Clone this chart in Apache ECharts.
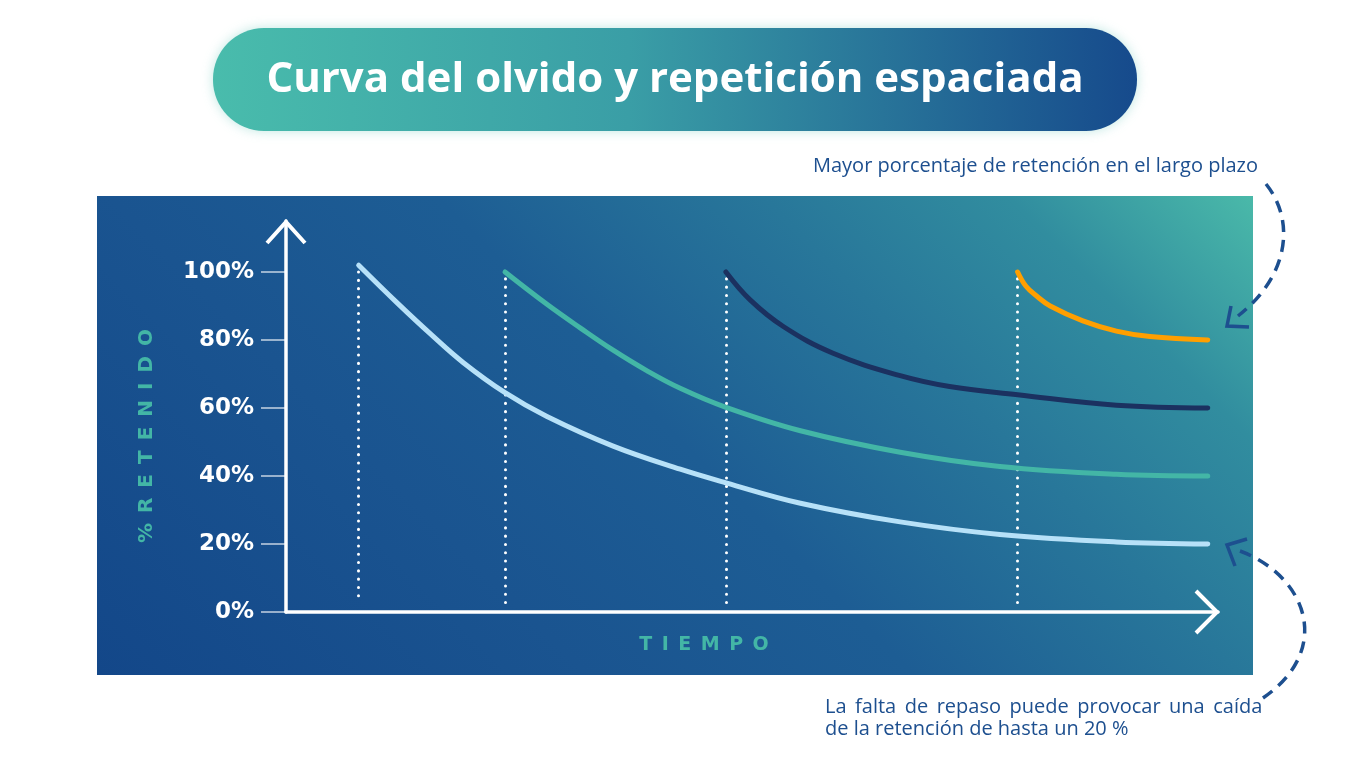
<!DOCTYPE html>
<html>
<head>
<meta charset="utf-8">
<title>Curva del olvido y repetición espaciada</title>
<script src="https://cdn.jsdelivr.net/npm/echarts@6/dist/echarts.min.js"></script>
<style>
  html, body { margin: 0; padding: 0; background: #ffffff; }
  #chart { width: 1350px; height: 759px; }
</style>
</head>
<body>
<div id="chart"></div>
<script>
// tiempo en unidades del eje (0-100), % retenido
var tiempoSinRepaso = [7.8, 11.9, 15.5, 19.0, 23.5, 28.0, 35.1, 42.3, 47.2, 55.2, 65.9, 76.6, 89.1, 98.9];
var retenidoSinRepaso = [102, 91.0, 81.8, 73.4, 64.5, 57.5, 48.8, 42.0, 38.0, 32.0, 26.5, 22.8, 20.6, 20];

var tiempoRepaso1 = [23.5, 28.0, 31.6, 35.1, 38.7, 42.3, 47.2, 55.2, 65.9, 76.6, 89.1, 98.9];
var retenidoRepaso1 = [100, 90.5, 83.5, 77, 71, 65.8, 60.2, 53.3, 47, 42.8, 40.5, 40];

var tiempoRepaso2 = [47.2, 49.8, 53.4, 58.7, 65.9, 71.2, 78.5, 89.1, 98.9];
var retenidoRepaso2 = [100, 91.8, 83.9, 76.1, 69.5, 66.3, 63.9, 60.8, 60];

var tiempoRepaso3 = [78.5, 79.4, 80.6, 82.0, 85.5, 89.1, 92.7, 98.9];
var retenidoRepaso3 = [100, 95.8, 92.8, 90.0, 85.6, 82.6, 81.0, 80];

// momentos de repaso (lineas punteadas)
var momentosRepaso = [7.8, 23.5, 47.2, 78.5];
var topeRepaso = [100, 98, 98, 98];

var yTicks = [0, 20, 40, 60, 80, 100];

function pares(xs, ys) {
  return xs.map(function (x, i) { return [x, ys[i]]; });
}

var chart = echarts.init(document.getElementById('chart'));

var colores = ['#b7e1f8', '#43b6a6', '#1b3160', '#ff9f00'];
var tiempos = [tiempoSinRepaso, tiempoRepaso1, tiempoRepaso2, tiempoRepaso3];
var valores = [retenidoSinRepaso, retenidoRepaso1, retenidoRepaso2, retenidoRepaso3];

var series = tiempos.map(function (t, i) {
  return {
    type: 'line',
    data: pares(t, valores[i]),
    smooth: 0.4,
    showSymbol: false,
    silent: true,
    lineStyle: { color: colores[i], width: 5, cap: 'round' },
    z: 5,
    markLine: {
      silent: true,
      symbol: ['none', 'none'],
      label: { show: false },
      lineStyle: { color: '#ffffff', width: 3, type: [0.1, 8.2], cap: 'round' },
      z: 3,
      data: [[{ coord: [momentosRepaso[i], topeRepaso[i]] }, { coord: [momentosRepaso[i], 2.4] }]]
    }
  };
});

var azul = '#1d4f8f';

var option = {
  animation: false,
  grid: { left: 286, right: 132, top: 221, bottom: 147 },
  xAxis: {
    type: 'value', min: 0, max: 100,
    axisLine: { lineStyle: { color: '#ffffff', width: 3.5 } },
    axisTick: { show: false },
    axisLabel: { show: false },
    splitLine: { show: false }
  },
  yAxis: {
    type: 'value', min: 0, max: 115, interval: 20,
    axisLine: { show: true, lineStyle: { color: '#ffffff', width: 3.5 } },
    axisTick: {
      show: true, length: 25, customValues: yTicks,
      lineStyle: { color: 'rgba(255,255,255,0.75)', width: 1.5 }
    },
    axisLabel: {
      customValues: yTicks,
      margin: 32,
      color: '#ffffff',
      fontFamily: 'DejaVu Sans',
      fontWeight: 'bold',
      fontSize: 23,
      formatter: function (v) { return v + '%'; }
    },
    splitLine: { show: false }
  },
  graphic: [
    // panel de fondo (degradado a 45 grados)
    {
      type: 'rect', z: -10, silent: true,
      shape: { x: 97, y: 196, width: 1156, height: 479 },
      style: {
        fill: new echarts.graphic.LinearGradient(97, 675, 914.5, -142.5, [
          { offset: 0, color: '#134789' },
          { offset: 0.3, color: '#1a5490' },
          { offset: 0.5, color: '#1d5d94' },
          { offset: 0.7, color: '#28779a' },
          { offset: 0.85, color: '#318d9f' },
          { offset: 1, color: '#4ab9a9' }
        ], true)
      }
    },
    // titulo
    {
      type: 'rect', z: 10,
      shape: { x: 213, y: 28, width: 924, height: 103, r: 51 },
      style: {
        fill: new echarts.graphic.LinearGradient(0, 0, 1, 0, [
          { offset: 0, color: '#49bcac' },
          { offset: 0.45, color: '#3a9ea6' },
          { offset: 1, color: '#164a8c' }
        ]),
        shadowBlur: 12,
        shadowColor: 'rgba(73,188,172,0.35)'
      }
    },
    {
      type: 'text', z: 11, x: 675, y: 80,
      style: {
        text: 'Curva del olvido y repetición espaciada',
        fill: '#ffffff',
        font: 'bold 42px "Open Sans"',
        align: 'center', verticalAlign: 'middle'
      }
    },
    // nombres de ejes
    {
      type: 'text', z: 11, x: 704, y: 645,
      style: {
        text: 'T\u2002I\u2002E\u2002M\u2002P\u2002O',
        fill: '#43b6a6',
        font: 'bold 19px "DejaVu Sans"',
        align: 'center', verticalAlign: 'middle'
      }
    },
    {
      type: 'text', z: 11, x: 147, y: 436, rotation: Math.PI / 2,
      style: {
        text: '%\u2002R\u2002E\u2002T\u2002E\u2002N\u2002I\u2002D\u2002O',
        fill: '#43b6a6',
        font: 'bold 20px "DejaVu Sans"',
        align: 'center', verticalAlign: 'middle'
      }
    },
    // puntas de flecha de los ejes
    {
      type: 'polyline', z: 11,
      shape: { points: [[267, 243], [286, 222], [305, 243]] },
      style: { stroke: '#ffffff', lineWidth: 4, fill: null }
    },
    {
      type: 'polyline', z: 11,
      shape: { points: [[1196, 591], [1217, 612], [1196, 633]] },
      style: { stroke: '#ffffff', lineWidth: 4, fill: null }
    },
    // anotaciones
    {
      type: 'text', z: 11, x: 813, y: 166,
      style: {
        text: 'Mayor porcentaje de retención en el largo plazo',
        fill: azul,
        font: '500 20px "Open Sans"',
        align: 'left', verticalAlign: 'middle'
      }
    },
    {
      type: 'text', z: 11, x: 825, y: 718,
      style: {
        text: 'La \u2009falta \u2009de \u2009repaso \u2009puede \u2009provocar \u2009una \u2009caída\nde la retención de hasta un 20 %',
        fill: azul,
        font: '500 20px "Open Sans"',
        lineHeight: 22,
        align: 'left', verticalAlign: 'middle'
      }
    },
    {
      type: 'bezierCurve', z: 11,
      shape: { x1: 1266, y1: 184, cpx1: 1295, cpy1: 220, cpx2: 1290, cpy2: 275, x2: 1238, y2: 316 },
      style: { stroke: azul, lineWidth: 3.5, lineDash: [12, 8], fill: null }
    },
    {
      type: 'polyline', z: 11,
      shape: { points: [[1231, 306], [1227, 326], [1249, 327]] },
      style: { stroke: azul, lineWidth: 3.5, fill: null }
    },
    {
      type: 'bezierCurve', z: 11,
      shape: { x1: 1240, y1: 551, cpx1: 1305, cpy1: 575, cpx2: 1335, cpy2: 648, x2: 1263, y2: 698 },
      style: { stroke: azul, lineWidth: 3.5, lineDash: [12, 8], fill: null }
    },
    {
      type: 'polyline', z: 11,
      shape: { points: [[1247, 539], [1227, 545], [1235, 566]] },
      style: { stroke: azul, lineWidth: 3.5, fill: null }
    }
  ],
  series: series
};

chart.setOption(option);
</script>
</body>
</html>
